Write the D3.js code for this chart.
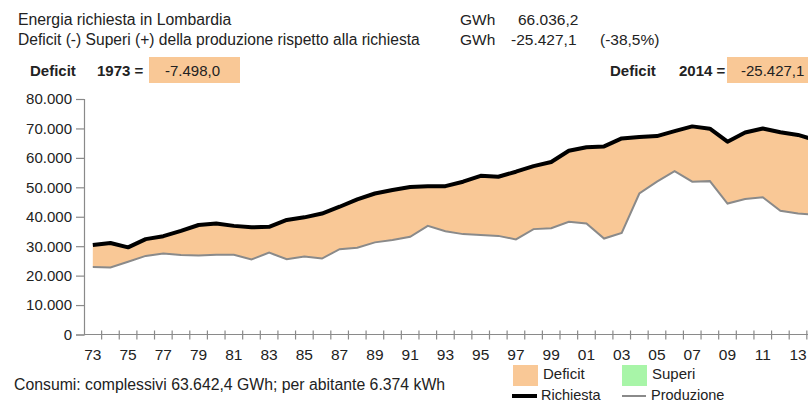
<!DOCTYPE html>
<html><head><meta charset="utf-8">
<script src="https://cdn.jsdelivr.net/npm/d3@7"></script>
<style>
html,body{margin:0;padding:0;background:#fff;overflow:hidden}
text{font-family:"Liberation Sans",Arial,sans-serif;fill:#222}
</style></head><body>
<svg id="c" width="808" height="402"></svg>
<script>
const years = d3.range(1973, 2015);
const richiesta = [30400, 31100, 29600, 32400, 33400, 35200, 37200, 37700, 36900, 36400, 36600, 38900, 39800, 41100, 43400, 45900, 47900, 49100, 50100, 50400, 50400, 51900, 53900, 53600, 55300, 57200, 58600, 62400, 63600, 63900, 66600, 67100, 67400, 69100, 70700, 69900, 65500, 68600, 70000, 68700, 67800, 66036.2];
const produzione = [22900, 22800, 24700, 26700, 27500, 27000, 26800, 27100, 27100, 25500, 27800, 25600, 26500, 25800, 29000, 29500, 31300, 32100, 33200, 36900, 35100, 34100, 33800, 33500, 32300, 35800, 36100, 38300, 37700, 32600, 34500, 47900, 51900, 55500, 51900, 52100, 44500, 46000, 46600, 42000, 41100, 40609.1];
const yTicks = [0, 10000, 20000, 30000, 40000, 50000, 60000, 70000, 80000];
const xLabelYears = d3.range(1973, 2015, 2);
const headerLines = ["Energia richiesta in Lombardia", "Deficit (-) Superi (+) della produzione rispetto alla richiesta"];
const legendItems = ["Deficit", "Superi", "Richiesta", "Produzione"];

const svg = d3.select("#c");
const it = d3.formatLocale({decimal: ",", thousands: ".", grouping: [3], currency: ["", ""]});
const fmt = it.format(",");

const x = d3.scaleLinear().domain([1972.5, 2014.5]).range([84, 84 + 42 * 17.63]);
const y = d3.scaleLinear().domain([0, 80000]).range([334.5, 99]);

const PEACH = "#f9c896", GREEN = "#a8f5a8", GREY = "#8a8a8a";

// header
svg.append("text").attr("x", 18).attr("y", 25).attr("font-size", 15.8).text(headerLines[0]);
svg.append("text").attr("x", 18).attr("y", 45).attr("font-size", 15.6).text(headerLines[1]);
svg.append("text").attr("x", 460).attr("y", 25).attr("font-size", 15.5).text("GWh");
svg.append("text").attr("x", 518).attr("y", 25).attr("font-size", 15.5).text("66.036,2");
svg.append("text").attr("x", 460).attr("y", 45).attr("font-size", 15.5).text("GWh");
svg.append("text").attr("x", 511).attr("y", 45).attr("font-size", 15.5).text("-25.427,1");
svg.append("text").attr("x", 600).attr("y", 45).attr("font-size", 15.5).text("(-38,5%)");

// deficit boxes
svg.append("text").attr("x", 30).attr("y", 76).attr("font-size", 15).attr("font-weight", "bold").text("Deficit");
svg.append("text").attr("x", 97).attr("y", 76).attr("font-size", 15).attr("font-weight", "bold").text("1973 =");
svg.append("rect").attr("x", 149).attr("y", 57).attr("width", 91).attr("height", 26).attr("fill", PEACH);
svg.append("text").attr("x", 165).attr("y", 76).attr("font-size", 15).text("-7.498,0");

svg.append("text").attr("x", 610).attr("y", 76).attr("font-size", 15).attr("font-weight", "bold").text("Deficit");
svg.append("text").attr("x", 679).attr("y", 76).attr("font-size", 15).attr("font-weight", "bold").text("2014 =");
svg.append("rect").attr("x", 727).attr("y", 57).attr("width", 100).attr("height", 26).attr("fill", PEACH);
svg.append("text").attr("x", 741).attr("y", 76).attr("font-size", 15).text("-25.427,1");

// areas
const data = years.map((yr, i) => ({yr, r: richiesta[i], p: produzione[i]}));
const deficitArea = d3.area().x(d => x(d.yr)).y0(d => y(d.p)).y1(d => y(Math.max(d.r, d.p)));
const superiArea = d3.area().x(d => x(d.yr)).y0(d => y(d.r)).y1(d => y(Math.max(d.r, d.p)));
svg.append("path").datum(data).attr("d", deficitArea).attr("fill", PEACH);
svg.append("path").datum(data).attr("d", superiArea).attr("fill", GREEN);

const lineR = d3.line().x(d => x(d.yr)).y(d => y(d.r));
const lineP = d3.line().x(d => x(d.yr)).y(d => y(d.p));
svg.append("path").datum(data).attr("d", lineP).attr("fill", "none").attr("stroke", GREY).attr("stroke-width", 2);
svg.append("path").datum(data).attr("d", lineR).attr("fill", "none").attr("stroke", "#000").attr("stroke-width", 4).attr("stroke-linejoin", "round");

// y axis
const yAxis = svg.append("g").attr("transform", "translate(84,0)")
  .call(d3.axisLeft(y).tickValues(yTicks).tickFormat(fmt).tickSize(8).tickPadding(4));
yAxis.select(".domain").attr("stroke", GREY).attr("stroke-width", 1.2);
yAxis.selectAll(".tick line").attr("stroke", GREY).attr("stroke-width", 1.2);
yAxis.selectAll(".tick text").attr("font-size", 15).attr("fill", "#222").attr("font-family", "Liberation Sans, Arial, sans-serif");

// x axis
const xAxis = svg.append("g").attr("transform", "translate(0," + y(0) + ")");
xAxis.append("line").attr("x1", 84).attr("x2", x(2014.5)).attr("stroke", GREY).attr("stroke-width", 1.2);
const bounds = d3.range(1973.5, 2014.5, 1);
xAxis.selectAll("line.t").data(bounds).join("line").attr("class", "t")
  .attr("x1", d => x(d)).attr("x2", d => x(d)).attr("y1", -4).attr("y2", 5)
  .attr("stroke", GREY).attr("stroke-width", 1.2);
xAxis.selectAll("text").data(xLabelYears).join("text")
  .attr("x", d => x(d)).attr("y", 25).attr("text-anchor", "middle").attr("font-size", 15.5)
  .text(d => String(d % 100).padStart(2, "0"));

// footer
svg.append("text").attr("x", 14).attr("y", 390).attr("font-size", 15.8).text("Consumi: complessivi 63.642,4 GWh; per abitante 6.374 kWh");

// legend
svg.append("rect").attr("x", 513).attr("y", 365).attr("width", 25).attr("height", 21).attr("fill", PEACH);
svg.append("text").attr("x", 543).attr("y", 379).attr("font-size", 15).text(legendItems[0]);
svg.append("rect").attr("x", 622).attr("y", 365).attr("width", 25).attr("height", 21).attr("fill", GREEN);
svg.append("text").attr("x", 652).attr("y", 379).attr("font-size", 15).text(legendItems[1]);
svg.append("line").attr("x1", 512).attr("x2", 537).attr("y1", 396).attr("y2", 396).attr("stroke", "#000").attr("stroke-width", 4);
svg.append("text").attr("x", 541).attr("y", 400).attr("font-size", 14.5).text(legendItems[2]);
svg.append("line").attr("x1", 622).attr("x2", 646).attr("y1", 396).attr("y2", 396).attr("stroke", GREY).attr("stroke-width", 2);
svg.append("text").attr("x", 651).attr("y", 400).attr("font-size", 14.5).text(legendItems[3]);
</script>
</body></html>
